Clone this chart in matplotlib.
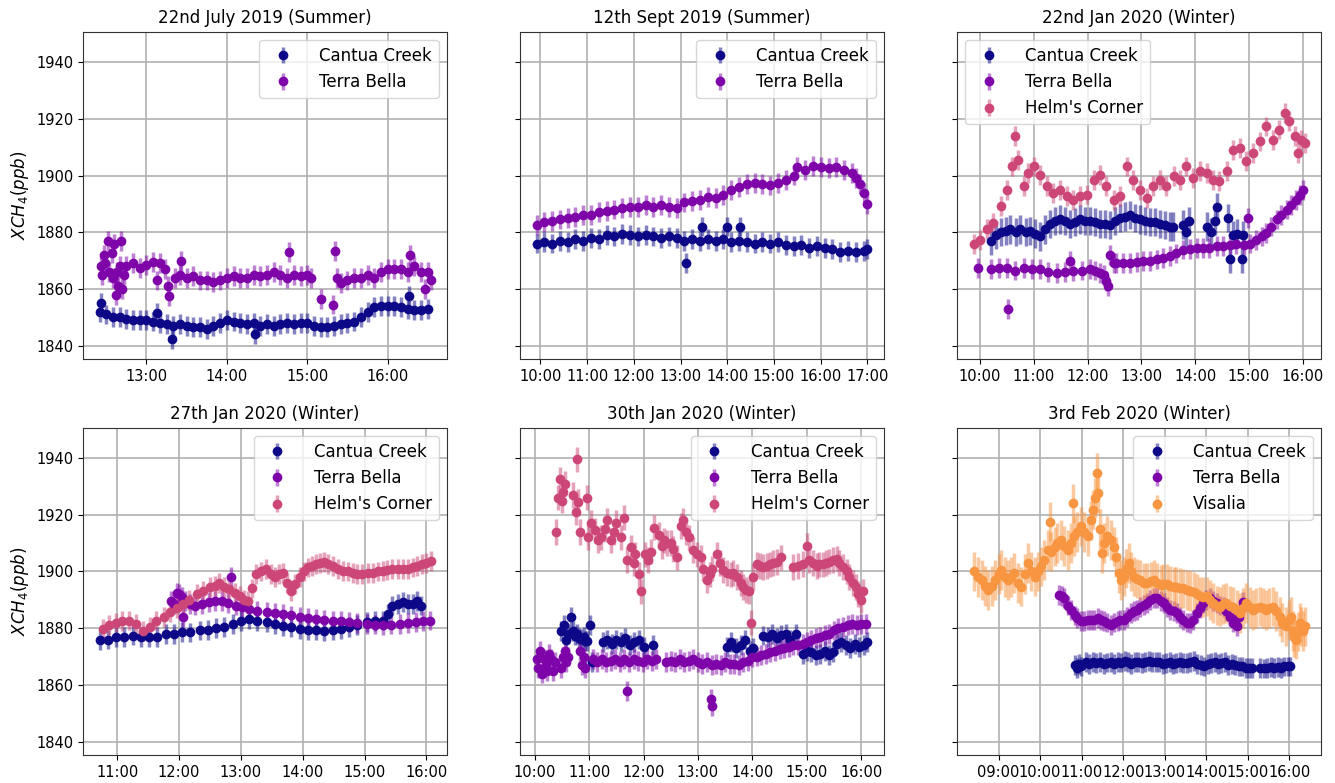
import matplotlib
matplotlib.use("Agg")
import matplotlib.pyplot as plt
from matplotlib.ticker import MultipleLocator, FuncFormatter
from matplotlib.colors import to_rgba

# site colours (plasma-like)
site_colors = {"Cantua Creek": "#0d0887", "Terra Bella": "#7e03a8",
               "Helm's Corner": "#cc4778", "Visalia": "#f89540"}

# ---- 22nd July 2019 ----
jul_cc = [("12:25", 1852), ("12:26", 1855), ("12:30", 1851), ("12:35", 1850), ("12:40", 1850),
          ("12:45", 1849.5), ("12:50", 1849), ("12:55", 1849), ("13:00", 1849), ("13:05", 1848.5),
          ("13:08", 1851.5), ("13:10", 1848), ("13:15", 1847.5), ("13:19", 1842.5), ("13:20", 1847),
          ("13:25", 1847.5), ("13:30", 1847), ("13:35", 1846.5), ("13:40", 1846.5), ("13:45", 1846),
          ("13:50", 1847), ("13:55", 1848), ("14:00", 1849), ("14:05", 1848.5), ("14:10", 1848),
          ("14:15", 1847.5), ("14:20", 1848), ("14:21", 1844), ("14:25", 1847), ("14:30", 1847.5),
          ("14:35", 1847), ("14:40", 1847.5), ("14:45", 1848), ("14:50", 1847.5), ("14:55", 1848),
          ("15:00", 1848), ("15:05", 1847), ("15:10", 1846.5), ("15:15", 1846.5), ("15:20", 1847),
          ("15:25", 1847.5), ("15:30", 1848), ("15:35", 1848.5), ("15:40", 1850), ("15:45", 1852),
          ("15:50", 1853.5), ("15:55", 1854), ("16:00", 1854), ("16:05", 1854), ("16:10", 1853.5),
          ("16:15", 1853), ("16:16", 1857.5), ("16:20", 1852.5), ("16:25", 1852.5), ("16:30", 1853)]
jul_tb = [("12:26", 1868), ("12:27", 1865), ("12:28", 1872), ("12:29", 1869), ("12:31", 1877),
          ("12:32", 1866), ("12:34", 1872.5), ("12:35", 1864), ("12:36", 1876), ("12:37", 1858),
          ("12:38", 1866), ("12:39", 1861), ("12:40", 1868), ("12:41", 1877), ("12:42", 1860),
          ("12:43", 1865), ("12:45", 1868), ("12:50", 1869), ("12:55", 1867.5), ("13:00", 1868.5),
          ("13:05", 1869.5), ("13:08", 1863), ("13:10", 1869), ("13:14", 1867), ("13:16", 1861),
          ("13:17", 1857.5), ("13:21", 1864), ("13:25", 1865), ("13:26", 1870), ("13:30", 1864),
          ("13:35", 1864.5), ("13:40", 1863), ("13:45", 1863), ("13:50", 1862.5), ("13:55", 1863),
          ("14:00", 1864), ("14:05", 1864.5), ("14:10", 1864), ("14:15", 1864), ("14:20", 1865),
          ("14:25", 1864.5), ("14:30", 1865), ("14:35", 1866), ("14:40", 1865), ("14:45", 1864),
          ("14:46", 1873), ("14:50", 1865), ("14:55", 1864.5), ("15:00", 1865), ("15:03", 1864),
          ("15:10", 1856.5), ("15:19", 1854.5), ("15:21", 1873.5), ("15:22", 1864), ("15:25", 1862),
          ("15:30", 1863), ("15:35", 1864), ("15:40", 1864), ("15:45", 1865), ("15:50", 1864),
          ("15:55", 1866), ("16:00", 1867), ("16:05", 1867), ("16:10", 1867), ("16:15", 1866),
          ("16:17", 1872), ("16:20", 1868), ("16:25", 1866), ("16:28", 1860), ("16:30", 1866),
          ("16:32", 1863)]

# ---- 12th Sept 2019 ----
sep_cc = [("09:55", 1876), ("10:05", 1876.5), ("10:15", 1876), ("10:25", 1877), ("10:35", 1876.5),
          ("10:45", 1877.5), ("10:55", 1877), ("11:05", 1878), ("11:15", 1877.5), ("11:25", 1879),
          ("11:35", 1878.5), ("11:45", 1879.5), ("11:55", 1879), ("12:05", 1878.5), ("12:15", 1879),
          ("12:25", 1878.5), ("12:35", 1878), ("12:45", 1878.5), ("12:55", 1878), ("13:05", 1877),
          ("13:07", 1869), ("13:15", 1877.5), ("13:25", 1877), ("13:27", 1882), ("13:35", 1877.5),
          ("13:45", 1877), ("13:55", 1877.5), ("14:00", 1882), ("14:05", 1876.5), ("14:15", 1877),
          ("14:16", 1882), ("14:25", 1876.5), ("14:35", 1876), ("14:45", 1876.5), ("14:55", 1876),
          ("15:05", 1876.5), ("15:15", 1875.5), ("15:25", 1875), ("15:35", 1875.5), ("15:45", 1874.5),
          ("15:55", 1875), ("16:05", 1874.5), ("16:15", 1874), ("16:25", 1873), ("16:35", 1873.5),
          ("16:45", 1873), ("16:55", 1873.5), ("17:00", 1874)]
sep_tb = [("09:55", 1882.5), ("10:05", 1883.5), ("10:15", 1884), ("10:25", 1884.5), ("10:35", 1885),
          ("10:45", 1885.5), ("10:55", 1886), ("11:05", 1886), ("11:15", 1887), ("11:25", 1887.5),
          ("11:35", 1888), ("11:45", 1888.5), ("11:55", 1889), ("12:05", 1889), ("12:15", 1889.5),
          ("12:25", 1889), ("12:35", 1889.5), ("12:45", 1889), ("12:55", 1888.5), ("13:05", 1890.5),
          ("13:15", 1891), ("13:25", 1891.5), ("13:35", 1892.5), ("13:45", 1892), ("13:55", 1893),
          ("14:05", 1895), ("14:15", 1896), ("14:25", 1897), ("14:35", 1897.5), ("14:45", 1897),
          ("14:55", 1896.5), ("15:05", 1897.5), ("15:15", 1898.5), ("15:25", 1900), ("15:30", 1903),
          ("15:40", 1902), ("15:50", 1903.5), ("16:00", 1903), ("16:10", 1902.5), ("16:20", 1903),
          ("16:30", 1902), ("16:40", 1901), ("16:45", 1899), ("16:50", 1897), ("16:55", 1894),
          ("17:00", 1890)]

# ---- 22nd Jan 2020 ----
j22_cc = [("10:12", 1877), ("10:18", 1879), ("10:23", 1880), ("10:29", 1880.5), ("10:34", 1881),
          ("10:40", 1880), ("10:45", 1881), ("10:51", 1880), ("10:56", 1880.5), ("11:02", 1879.5),
          ("11:07", 1878.5), ("11:13", 1881), ("11:18", 1883), ("11:24", 1884), ("11:29", 1884.5),
          ("11:35", 1884), ("11:41", 1883), ("11:46", 1883.5), ("11:52", 1884.5), ("11:57", 1884),
          ("12:03", 1884), ("12:08", 1883.5), ("12:14", 1883), ("12:20", 1883), ("12:25", 1882.5),
          ("12:31", 1884), ("12:36", 1885), ("12:42", 1885.5), ("12:47", 1886), ("12:53", 1885),
          ("12:58", 1884.5), ("13:04", 1884), ("13:10", 1883.5), ("13:15", 1883.5), ("13:21", 1883),
          ("13:26", 1882.5), ("13:32", 1882), ("13:35", 1882), ("13:47", 1882.7), ("13:50", 1880),
          ("13:53", 1884), ("14:13", 1882), ("14:18", 1880), ("14:22", 1884), ("14:24", 1889),
          ("14:37", 1885), ("14:39", 1870.5), ("14:42", 1879), ("14:47", 1879.5), ("14:52", 1870.5),
          ("14:53", 1879)]
j22_tb = [("09:58", 1867.4), ("10:12", 1867), ("10:21", 1867.5), ("10:30", 1867.4), ("10:31", 1853),
          ("10:39", 1866.5), ("10:49", 1867.4), ("10:58", 1867), ("11:07", 1867), ("11:16", 1866),
          ("11:26", 1865.7), ("11:35", 1866), ("11:40", 1870), ("11:44", 1866.3), ("11:54", 1866.5),
          ("12:03", 1867), ("12:08", 1866.5), ("12:14", 1865.5), ("12:18", 1865), ("12:21", 1862.7),
          ("12:23", 1861), ("12:25", 1872), ("12:29", 1869), ("12:32", 1869.2), ("12:40", 1869),
          ("12:47", 1869.2), ("12:55", 1869.5), ("13:02", 1869.8), ("13:10", 1870), ("13:17", 1870.4),
          ("13:24", 1871), ("13:32", 1871.5), ("13:39", 1872.5), ("13:47", 1873.9), ("13:54", 1874),
          ("14:02", 1874.5), ("14:09", 1874.5), ("14:16", 1874.5), ("14:24", 1875), ("14:31", 1875.1),
          ("14:39", 1875.5), ("14:46", 1875.7), ("14:54", 1875.5), ("14:59", 1885), ("15:01", 1876),
          ("15:08", 1877.4), ("15:14", 1878.5), ("15:19", 1879.8), ("15:25", 1882), ("15:31", 1884.5),
          ("15:36", 1886), ("15:42", 1888), ("15:47", 1889.5), ("15:53", 1891.5), ("15:57", 1893),
          ("16:00", 1895)]
j22_hc = [("09:53", 1875.7), ("10:00", 1877.4), ("10:08", 1881), ("10:15", 1883.3), ("10:23", 1889.2),
          ("10:30", 1895), ("10:36", 1903.2), ("10:39", 1913.8), ("10:43", 1905.6), ("10:49", 1896.2),
          ("10:54", 1900.9), ("11:00", 1903.2), ("11:07", 1900.3), ("11:15", 1896.2), ("11:22", 1893.8),
          ("11:29", 1895), ("11:37", 1892.7), ("11:44", 1891.5), ("11:52", 1892.7), ("11:59", 1893.3),
          ("12:07", 1898.5), ("12:14", 1900.3), ("12:21", 1896.2), ("12:29", 1891.5), ("12:36", 1892.7),
          ("12:44", 1903.2), ("12:51", 1898.5), ("12:58", 1895), ("13:06", 1892.1), ("13:13", 1896.2),
          ("13:21", 1898.5), ("13:28", 1896.2), ("13:36", 1899.7), ("13:43", 1898.5), ("13:50", 1903.2),
          ("13:58", 1899.1), ("14:05", 1901.5), ("14:13", 1900.9), ("14:20", 1898.5), ("14:27", 1898),
          ("14:35", 1901.5), ("14:42", 1909.1), ("14:50", 1909.7), ("14:57", 1905), ("15:05", 1907.9),
          ("15:12", 1912), ("15:19", 1917.3), ("15:27", 1912.6), ("15:34", 1916.2), ("15:40", 1922),
          ("15:45", 1919.1), ("15:51", 1913.8), ("15:55", 1907.9), ("15:58", 1912.6), ("16:02", 1911.5)]

# ---- 27th Jan 2020 ----
j27_cc = [("10:43", 1875.7), ("10:51", 1876), ("10:59", 1876.8), ("11:07", 1877), ("11:15", 1877.4),
          ("11:23", 1877), ("11:31", 1876.8), ("11:39", 1877), ("11:47", 1878), ("11:55", 1878),
          ("12:03", 1878.6), ("12:11", 1878.5), ("12:20", 1879.2), ("12:28", 1879.5), ("12:36", 1880.1),
          ("12:44", 1880.5), ("12:52", 1881.5), ("13:00", 1882.5), ("13:08", 1883.3), ("13:16", 1882.5),
          ("13:25", 1882.1), ("13:33", 1881.5), ("13:41", 1880.9), ("13:49", 1880.5), ("13:57", 1879.8),
          ("14:05", 1879.5), ("14:13", 1879.2), ("14:21", 1879), ("14:29", 1879.2), ("14:37", 1879.8),
          ("14:45", 1880.4), ("14:53", 1881), ("15:02", 1882.1), ("15:10", 1882.5), ("15:18", 1882.7),
          ("15:23", 1885), ("15:27", 1888), ("15:32", 1888.5), ("15:37", 1889.1), ("15:42", 1888.5),
          ("15:47", 1888.5), ("15:51", 1889.7), ("15:55", 1888)]
j27_tb = [("11:52", 1889.7), ("11:55", 1888.5), ("11:58", 1892.5), ("12:00", 1892), ("12:03", 1891),
          ("12:04", 1884), ("12:06", 1889.7), ("12:11", 1888.5), ("12:16", 1888), ("12:22", 1888.5),
          ("12:29", 1889.1), ("12:35", 1889.5), ("12:42", 1889.7), ("12:48", 1889), ("12:50", 1898),
          ("12:55", 1888), ("13:01", 1887.5), ("13:08", 1886.8), ("13:16", 1886), ("13:25", 1885.6),
          ("13:33", 1885.3), ("13:41", 1885), ("13:49", 1884.5), ("13:57", 1883.9), ("14:05", 1883.5),
          ("14:13", 1883.3), ("14:21", 1883), ("14:29", 1882.7), ("14:37", 1882.4), ("14:45", 1882.1),
          ("14:53", 1881.8), ("15:02", 1881.5), ("15:10", 1881.3), ("15:18", 1881.2), ("15:26", 1881.3),
          ("15:34", 1881.5), ("15:42", 1881.8), ("15:50", 1882.1), ("15:57", 1882.4), ("16:03", 1882.7)]
j27_hc = [("10:46", 1879.8), ("10:52", 1881), ("10:59", 1882), ("11:05", 1882.5), ("11:12", 1882.7),
          ("11:18", 1881.5), ("11:25", 1879), ("11:32", 1880.5), ("11:38", 1882.7), ("11:45", 1884),
          ("11:51", 1885.6), ("11:58", 1887), ("12:04", 1888.5), ("12:10", 1890), ("12:17", 1892),
          ("12:23", 1893), ("12:30", 1894.4), ("12:35", 1895), ("12:39", 1896), ("12:44", 1894.5),
          ("12:49", 1893.8), ("12:54", 1892.5), ("12:59", 1891.5), ("13:03", 1890), ("13:07", 1889.5),
          ("13:11", 1894), ("13:15", 1899), ("13:20", 1900), ("13:24", 1900.8), ("13:29", 1899),
          ("13:33", 1897.9), ("13:37", 1899), ("13:41", 1899.6), ("13:45", 1896), ("13:49", 1893.2),
          ("13:53", 1895.5), ("13:57", 1897.9), ("14:01", 1900), ("14:05", 1901.4), ("14:09", 1902),
          ("14:13", 1902.6), ("14:17", 1903), ("14:21", 1903.2), ("14:25", 1902.5), ("14:29", 1902),
          ("14:34", 1901), ("14:39", 1900.2), ("14:44", 1900), ("14:49", 1899.6), ("14:53", 1899),
          ("14:58", 1899.1), ("15:03", 1899.5), ("15:08", 1899.6), ("15:13", 1900), ("15:18", 1900.2),
          ("15:22", 1900.5), ("15:27", 1900.8), ("15:32", 1901), ("15:37", 1900.8), ("15:42", 1901),
          ("15:47", 1901.4), ("15:51", 1902), ("15:56", 1902.6), ("16:00", 1903), ("16:04", 1903.7)]

# ---- 30th Jan 2020 ----
j30_cc = [("10:29", 1879), ("10:32", 1881), ("10:35", 1876), ("10:37", 1878), ("10:40", 1884),
          ("10:42", 1879), ("10:44", 1877.4), ("10:47", 1878), ("10:49", 1876.5), ("10:51", 1876.2),
          ("10:54", 1877), ("10:56", 1875.5), ("10:58", 1875.6), ("11:01", 1881), ("11:03", 1868),
          ("11:15", 1875), ("11:20", 1876), ("11:25", 1874.5), ("11:30", 1876), ("11:35", 1875),
          ("11:40", 1876.5), ("11:45", 1874), ("11:50", 1875), ("11:55", 1876), ("12:00", 1873.5),
          ("12:10", 1874), ("13:32", 1873.3), ("13:37", 1875), ("13:42", 1873), ("13:47", 1874),
          ("13:52", 1876), ("13:57", 1872), ("14:01", 1873), ("14:12", 1877.4), ("14:17", 1877),
          ("14:22", 1878), ("14:27", 1876.5), ("14:32", 1877.5), ("14:37", 1878), ("14:42", 1876),
          ("14:48", 1878), ("14:56", 1871), ("15:00", 1872), ("15:05", 1871.5), ("15:10", 1870.5),
          ("15:15", 1871), ("15:20", 1872), ("15:25", 1870.5), ("15:29", 1871.5), ("15:33", 1874.5),
          ("15:38", 1875), ("15:43", 1874), ("15:48", 1873), ("15:53", 1874.5), ("15:58", 1873.5),
          ("16:03", 1874), ("16:07", 1875)]
j30_tb = [("10:02", 1869), ("10:04", 1866), ("10:06", 1872), ("10:08", 1864), ("10:10", 1869),
          ("10:12", 1867), ("10:14", 1865), ("10:16", 1871), ("10:18", 1869), ("10:20", 1865),
          ("10:22", 1868), ("10:29", 1866), ("10:31", 1870), ("10:33", 1872), ("10:35", 1868),
          ("10:37", 1870), ("10:50", 1872), ("10:52", 1867), ("10:54", 1870), ("10:56", 1866),
          ("11:04", 1869), ("11:09", 1868), ("11:14", 1869), ("11:19", 1868), ("11:24", 1868.5),
          ("11:29", 1869), ("11:34", 1868), ("11:39", 1869), ("11:42", 1858), ("11:44", 1868),
          ("11:49", 1869), ("11:54", 1868.5), ("11:59", 1868), ("12:04", 1869), ("12:09", 1868.5),
          ("12:14", 1869), ("12:25", 1868), ("12:30", 1868.5), ("12:35", 1868), ("12:40", 1869),
          ("12:45", 1868), ("12:50", 1868.5), ("12:55", 1869), ("13:00", 1868), ("13:05", 1867.5),
          ("13:10", 1868), ("13:14", 1855), ("13:15", 1852.7), ("13:16", 1867), ("13:20", 1867.5),
          ("13:25", 1867), ("13:30", 1868), ("13:35", 1867.5), ("13:40", 1867.5), ("13:45", 1867),
          ("13:50", 1868), ("13:55", 1868.5), ("14:00", 1869.8), ("14:05", 1870), ("14:10", 1870.5),
          ("14:15", 1871), ("14:20", 1871.5), ("14:25", 1872), ("14:30", 1872.5), ("14:35", 1873),
          ("14:40", 1873.3), ("14:45", 1874), ("14:50", 1874), ("14:56", 1874.5), ("15:00", 1875),
          ("15:05", 1876), ("15:10", 1876.5), ("15:15", 1877), ("15:20", 1877.5), ("15:25", 1878),
          ("15:30", 1879.2), ("15:35", 1880), ("15:40", 1880.5), ("15:45", 1881), ("15:50", 1881.5),
          ("15:55", 1881), ("16:00", 1881.5), ("16:05", 1881.5)]
j30_hc = [("10:24", 1914), ("10:26", 1926), ("10:28", 1932.5), ("10:30", 1925), ("10:31", 1928),
          ("10:33", 1931), ("10:42", 1927), ("10:45", 1921), ("10:47", 1939.5), ("10:48", 1924.5),
          ("10:50", 1914), ("10:58", 1926), ("10:59", 1912), ("11:02", 1917), ("11:06", 1914.5),
          ("11:10", 1911), ("11:13", 1912), ("11:17", 1915), ("11:20", 1918), ("11:24", 1911),
          ("11:27", 1914), ("11:30", 1917), ("11:35", 1912), ("11:39", 1919), ("11:42", 1904),
          ("11:46", 1908.5), ("11:49", 1903), ("11:51", 1906), ("11:55", 1899), ("11:57", 1893),
          ("12:02", 1906), ("12:05", 1904), ("12:08", 1907), ("12:12", 1915.5), ("12:17", 1913),
          ("12:20", 1909), ("12:23", 1911), ("12:26", 1910), ("12:30", 1910), ("12:33", 1908),
          ("12:37", 1905), ("12:41", 1916), ("12:44", 1918), ("12:47", 1914), ("12:50", 1912),
          ("12:55", 1907.5), ("12:59", 1906), ("13:03", 1905), ("13:06", 1901), ("13:10", 1897),
          ("13:13", 1899), ("13:16", 1901), ("13:21", 1906), ("13:24", 1903), ("13:28", 1900.5),
          ("13:32", 1899.5), ("13:36", 1899), ("13:39", 1899.5), ("13:43", 1898), ("13:47", 1896),
          ("13:50", 1894.5), ("13:53", 1893.5), ("13:56", 1893), ("13:58", 1882), ("14:01", 1898),
          ("14:05", 1902.5), ("14:08", 1902), ("14:12", 1901.5), ("14:16", 1902), ("14:20", 1902.5),
          ("14:23", 1903), ("14:27", 1903.3), ("14:32", 1905), ("14:45", 1901.5), ("14:50", 1902),
          ("14:56", 1902.7), ("15:00", 1909), ("15:03", 1904), ("15:07", 1903), ("15:11", 1902),
          ("15:14", 1902.5), ("15:18", 1902.5), ("15:21", 1903), ("15:25", 1903.5), ("15:29", 1904),
          ("15:33", 1904.5), ("15:36", 1903), ("15:40", 1901.5), ("15:44", 1900), ("15:47", 1898),
          ("15:51", 1896), ("15:54", 1894.5), ("15:57", 1892), ("16:00", 1889.8), ("16:02", 1893)]

# ---- 3rd Feb 2020 ----
f03_cc = [("10:50", 1867), ("10:53", 1866), ("10:56", 1867.5), ("10:59", 1866.5), ("11:06", 1868),
          ("11:11", 1867.5), ("11:16", 1868), ("11:21", 1867.6), ("11:27", 1868), ("11:32", 1867.5),
          ("11:37", 1867.9), ("11:42", 1868), ("11:47", 1867.5), ("11:52", 1868), ("11:57", 1867.9),
          ("12:02", 1868.5), ("12:07", 1868), ("12:12", 1867.5), ("12:17", 1868), ("12:22", 1868.2),
          ("12:27", 1867.8), ("12:32", 1868), ("12:37", 1868.5), ("12:42", 1868), ("12:47", 1868.2),
          ("12:52", 1868), ("12:57", 1867.5), ("13:02", 1867.8), ("13:07", 1868), ("13:12", 1867.5),
          ("13:17", 1867.8), ("13:22", 1868), ("13:27", 1867.6), ("13:32", 1867.8), ("13:37", 1868),
          ("13:42", 1868.5), ("13:47", 1867.5), ("13:52", 1867), ("13:57", 1866.5), ("14:02", 1867.5),
          ("14:07", 1867.8), ("14:12", 1868), ("14:17", 1867.5), ("14:22", 1867.6), ("14:27", 1868),
          ("14:32", 1867), ("14:37", 1867.5), ("14:42", 1867), ("14:47", 1866.5), ("14:52", 1866.5),
          ("14:57", 1866), ("15:02", 1866), ("15:06", 1865.9), ("15:18", 1866), ("15:23", 1865.8),
          ("15:28", 1866), ("15:33", 1866.2), ("15:38", 1866), ("15:43", 1866.3), ("15:48", 1866),
          ("15:53", 1866.5), ("15:58", 1866.5), ("16:01", 1866.5)]
f03_tb = [("10:28", 1891.8), ("10:31", 1891.5), ("10:35", 1890.6), ("10:40", 1888), ("10:45", 1886.5),
          ("10:50", 1884.5), ("10:54", 1883.5), ("10:59", 1882.5), ("11:04", 1882.4), ("11:09", 1883),
          ("11:13", 1882.9), ("11:18", 1883), ("11:23", 1883.5), ("11:28", 1883), ("11:33", 1882.4),
          ("11:37", 1882), ("11:42", 1881.2), ("11:47", 1882), ("11:52", 1882.4), ("11:56", 1883),
          ("12:01", 1882.9), ("12:06", 1884), ("12:11", 1885.3), ("12:15", 1886), ("12:20", 1886.5),
          ("12:25", 1887.5), ("12:30", 1888.2), ("12:35", 1889), ("12:39", 1890), ("12:44", 1890.5),
          ("12:49", 1890.6), ("12:54", 1889.5), ("12:59", 1888.8), ("13:04", 1887.5), ("13:08", 1886.5),
          ("13:13", 1886), ("13:18", 1885.3), ("13:22", 1884), ("13:27", 1882.9), ("13:32", 1882),
          ("13:37", 1881.8), ("13:41", 1883), ("13:46", 1885.3), ("13:51", 1887), ("13:56", 1888.8),
          ("14:00", 1890), ("14:05", 1890.6), ("14:10", 1889.5), ("14:15", 1888.8), ("14:20", 1888),
          ("14:25", 1887.6), ("14:29", 1886), ("14:34", 1884.1), ("14:39", 1882), ("14:44", 1880.6),
          ("14:47", 1884), ("14:49", 1886.5), ("14:53", 1889.4)]
f03_vis = [("08:24", 1900), ("08:30", 1898), ("08:36", 1897), ("08:40", 1895), ("08:45", 1893.5),
           ("08:50", 1895), ("08:55", 1897), ("09:00", 1899), ("09:04", 1900.6), ("09:09", 1898),
           ("09:14", 1897), ("09:18", 1898), ("09:23", 1899.4), ("09:28", 1896), ("09:33", 1894.7),
           ("09:38", 1899), ("09:43", 1903), ("09:47", 1900), ("09:52", 1898.2), ("09:57", 1900),
           ("10:02", 1901.8), ("10:06", 1904), ("10:11", 1907.6), ("10:14", 1917.6), ("10:16", 1907),
           ("10:21", 1908.8), ("10:25", 1910), ("10:30", 1911.2), ("10:35", 1909), ("10:40", 1907.6),
           ("10:45", 1910), ("10:47", 1924), ("10:49", 1912.4), ("10:54", 1914), ("10:59", 1915.9),
           ("11:04", 1914), ("11:09", 1912.4), ("11:13", 1918), ("11:16", 1921.8), ("11:20", 1926),
           ("11:22", 1934.8), ("11:23", 1927.6), ("11:26", 1915), ("11:30", 1906.5), ("11:33", 1910),
           ("11:37", 1912.4), ("11:42", 1911), ("11:47", 1908.8), ("11:50", 1905), ("11:54", 1899.4),
           ("11:57", 1897), ("12:01", 1898.2), ("12:04", 1901), ("12:08", 1903), ("12:12", 1900),
           ("12:16", 1898.2), ("12:20", 1897.5), ("12:25", 1897), ("12:30", 1896), ("12:35", 1895.9),
           ("12:40", 1896.5), ("12:44", 1897), ("12:49", 1896), ("12:54", 1895.3), ("12:58", 1895.5),
           ("13:03", 1895.5), ("13:08", 1895), ("13:13", 1894.7), ("13:17", 1894.5), ("13:22", 1894.1),
           ("13:27", 1894), ("13:32", 1893.5), ("13:37", 1893), ("13:42", 1892.9), ("13:46", 1892),
           ("13:51", 1891.2), ("13:56", 1891), ("14:01", 1891.2), ("14:05", 1890), ("14:10", 1888.8),
           ("14:15", 1888), ("14:20", 1887.6), ("14:24", 1888.5), ("14:29", 1888.8), ("14:34", 1888),
           ("14:39", 1887.6), ("14:44", 1886.5), ("14:49", 1885.3), ("14:53", 1887), ("14:58", 1888.8),
           ("15:03", 1887.5), ("15:08", 1886.5), ("15:12", 1887), ("15:17", 1887.6), ("15:22", 1887),
           ("15:27", 1886.5), ("15:31", 1887), ("15:36", 1887.6), ("15:41", 1886), ("15:46", 1884.1),
           ("15:50", 1882), ("15:55", 1880.6), ("16:00", 1883), ("16:03", 1884), ("16:05", 1879),
           ("16:07", 1877), ("16:10", 1876), ("16:12", 1878.8), ("16:15", 1882), ("16:17", 1880.6),
           ("16:20", 1879), ("16:22", 1880.6)]

# measurement uncertainty per site (ppb)
err_cc, err_tb, err_hc, err_vis = 3.5, 3.5, 3.5, 7.0

panels = [
    ("22nd July 2019 (Summer)", [("Cantua Creek", jul_cc, err_cc), ("Terra Bella", jul_tb, err_tb)], "upper right"),
    ("12th Sept 2019 (Summer)", [("Cantua Creek", sep_cc, err_cc), ("Terra Bella", sep_tb, err_tb)], "upper right"),
    ("22nd Jan 2020 (Winter)", [("Cantua Creek", j22_cc, 5.0), ("Terra Bella", j22_tb, err_tb),
                                ("Helm's Corner", j22_hc, err_hc)], "upper left"),
    ("27th Jan 2020 (Winter)", [("Cantua Creek", j27_cc, err_cc), ("Terra Bella", j27_tb, err_tb),
                                ("Helm's Corner", j27_hc, err_hc)], "upper right"),
    ("30th Jan 2020 (Winter)", [("Cantua Creek", j30_cc, err_cc), ("Terra Bella", j30_tb, err_tb),
                                ("Helm's Corner", j30_hc, 4.5)], "upper right"),
    ("3rd Feb 2020 (Winter)", [("Cantua Creek", f03_cc, err_cc), ("Terra Bella", f03_tb, err_tb),
                               ("Visalia", f03_vis, err_vis)], "upper right"),
]


def to_hours(s):
    return int(s[:2]) + int(s[3:]) / 60.0


def hhmm(x, pos):
    h = int(x)
    m = int(round((x - h) * 60))
    if m == 60:
        h, m = h + 1, 0
    return "%02d:%02d" % (h, m)


fig = plt.figure(figsize=(13.35, 7.83), dpi=100)
lefts = [0.0622, 0.3895, 0.7169]
bottoms = [0.5415, 0.0358]
w, h = 0.2727, 0.4180

axes = []
for i, (title, series, loc) in enumerate(panels):
    row, col = divmod(i, 3)
    ax = fig.add_axes([lefts[col], bottoms[row], w, h], sharey=axes[0] if axes else None)
    axes.append(ax)
    for name, pts, err in series:
        c = site_colors[name]
        t = [to_hours(p[0]) for p in pts]
        v = [p[1] for p in pts]
        ax.errorbar(t, v, yerr=err, fmt="o", ms=7, mew=0, color=c, ecolor=to_rgba(c, 0.5),
                    elinewidth=2.5, capsize=0, label=name)
    ax.set_title(title, fontsize=12)
    ax.xaxis.set_major_locator(MultipleLocator(1))
    ax.xaxis.set_major_formatter(FuncFormatter(hhmm))
    ax.grid(True, color="#b0b0b0", linewidth=1.2)
    ax.tick_params(labelsize=10.5)
    for sp in ax.spines.values():
        sp.set_color("#333333")
    if col == 0:
        ax.set_ylabel(r"$XCH_4 (ppb)$", fontsize=12)
    else:
        ax.tick_params(labelleft=False)
    ax.legend(loc=loc, fontsize=12, handletextpad=1.2, borderpad=0.4)

axes[0].set_ylim(1835.3, 1950.7)
axes[0].set_yticks([1840, 1860, 1880, 1900, 1920, 1940])

fig.savefig("out.png", dpi=100)
